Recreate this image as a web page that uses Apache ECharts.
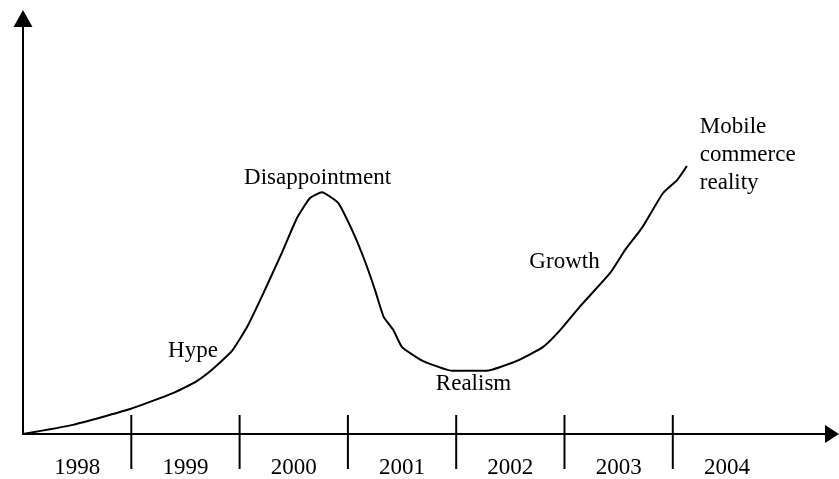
<!DOCTYPE html>
<html>
<head>
<meta charset="utf-8">
<script src="https://cdn.jsdelivr.net/npm/echarts@6/dist/echarts.min.js"></script>
<style>
  html, body { margin: 0; padding: 0; background: #fff; }
  #chart { width: 839px; height: 479px; }
</style>
</head>
<body>
<div id="chart"></div>
<script>
// x in "years since start" (one unit = one year), y in arbitrary 0-100 units
const years = ['1998', '1999', '2000', '2001', '2002', '2003', '2004']
const yearBoundaries = [1, 2, 3, 4, 5, 6]

const curveX = [0, 0.46, 0.99, 1.39, 1.59, 1.75, 1.93, 2.07, 2.22, 2.39, 2.53, 2.65, 2.76,
  2.91, 3.05, 3.16, 3.25, 3.33, 3.42, 3.5, 3.69, 3.97, 4.28, 4.56, 4.8, 4.96,
  5.14, 5.42, 5.56, 5.72, 5.91, 6.04, 6.13]
const curveY = [0, 2.2, 6.0, 9.9, 12.5, 15.6, 20.0, 25.8, 33.9, 43.6, 52.0, 56.8, 58.2,
  55.6, 48.4, 41.4, 34.7, 28.2, 25.0, 20.9, 17.6, 15.2, 15.2, 17.6, 20.9, 25.0,
  30.6, 38.7, 44.3, 49.8, 58.0, 61.1, 64.5]

const noteNames = ['Hype', 'Disappointment', 'Realism', 'Growth', 'Mobile\ncommerce\nreality']
const noteX = [1.57, 2.72, 4.16, 5.0, 6.25]
const noteY = [20.0, 61.6, 12.0, 41.4, 67.1]

const FONT = "'Liberation Serif', 'Times New Roman', serif"

const chart = echarts.init(document.getElementById('chart'), null, { renderer: 'canvas' })

chart.setOption({
  backgroundColor: '#fff',
  animation: false,
  grid: { left: 23, right: 7, top: 18.5, bottom: 45 },
  xAxis: {
    type: 'value',
    min: 0,
    max: 7.47,
    axisLine: {
      lineStyle: { color: '#000', width: 2 },
      symbol: ['none', 'triangle'],
      symbolSize: [18, 14],
    },
    axisTick: { show: false },
    axisLabel: { show: false },
    splitLine: { show: false },
  },
  yAxis: {
    type: 'value',
    min: 0,
    max: 100,
    axisLine: {
      show: true,
      lineStyle: { color: '#000', width: 2 },
      symbol: ['none', 'triangle'],
      symbolSize: [19, 17],
    },
    axisTick: { show: false },
    axisLabel: { show: false },
    splitLine: { show: false },
  },
  series: [
    {
      type: 'line',
      data: curveX.map((x, i) => [x, curveY[i]]),
      showSymbol: false,
      smooth: 0.15,
      lineStyle: { color: '#000', width: 2 },
    },
    {
      // year boundary ticks crossing the x axis
      type: 'custom',
      data: yearBoundaries.map((b) => [b, 0]),
      renderItem: (params, api) => {
        const p = api.coord([api.value(0), api.value(1)])
        return {
          type: 'line',
          shape: { x1: p[0], y1: p[1] - 19, x2: p[0], y2: p[1] + 35 },
          style: { stroke: '#000', lineWidth: 2 },
        }
      },
    },
    {
      // year labels centred in each year
      type: 'custom',
      data: years.map((y, i) => [i + 0.5, 0]),
      renderItem: (params, api) => {
        const p = api.coord([api.value(0), api.value(1)])
        return {
          type: 'text',
          x: p[0],
          y: p[1] + 34,
          style: {
            text: years[params.dataIndex],
            fill: '#000',
            font: `23px ${FONT}`,
            align: 'center',
            verticalAlign: 'middle',
          },
        }
      },
    },
    {
      // curve annotations
      type: 'custom',
      data: noteNames.map((n, i) => [noteX[i], noteY[i]]),
      renderItem: (params, api) => {
        const p = api.coord([api.value(0), api.value(1)])
        const multi = noteNames[params.dataIndex].indexOf('\n') >= 0
        return {
          type: 'text',
          x: p[0],
          y: p[1],
          style: {
            text: noteNames[params.dataIndex],
            fill: '#000',
            font: `23px ${FONT}`,
            lineHeight: 28,
            align: multi ? 'left' : 'center',
            verticalAlign: 'middle',
          },
        }
      },
    },
  ],
})
</script>
</body>
</html>
